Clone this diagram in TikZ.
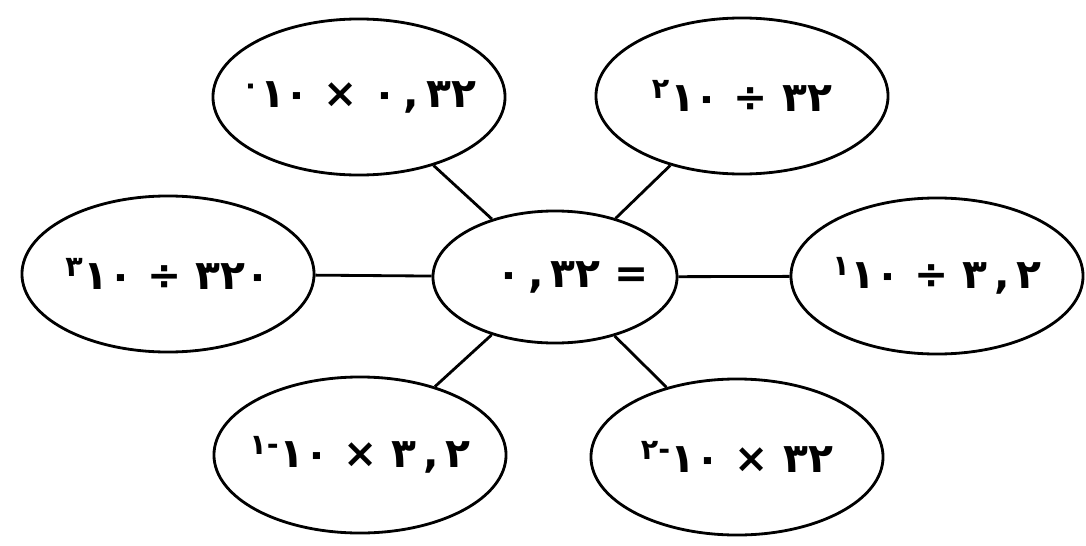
\documentclass[tikz,border=0pt]{standalone}
\usepackage{fontspec}
\newfontfamily\arabicfont[Script=Arabic]{DejaVu Sans}
\usetikzlibrary{shapes.geometric, positioning}
\newcommand{\nowidth}[1]{\makebox[0pt]{#1}}
\tikzset{
    outer/.style={ellipse, minimum width=7.3cm, minimum height=3.9cm, inner sep=0pt, draw=black, line width=2pt, fill=white, font=\arabicfont\bfseries\fontsize{29}{35}\selectfont},
    middle/.style={ellipse, minimum width=6.1cm, minimum height=3.3cm, inner sep=0pt, draw=black, line width=2pt, fill=white, font=\arabicfont\bfseries\fontsize{29}{35}\selectfont},
    link/.style={line width=2pt, draw=black}
}

\begin{document}
\begin{tikzpicture}[x=0.025cm, y=-0.025cm]
    \useasboundingbox (0,0) rectangle (1086,546);
    % Centre
    \node[middle] (ctr) at (555,277) {\nowidth{\hspace{0.9cm}٠\,,\,٣٢\ =}};
    % Outer ellipses
    \node[outer] (tl) at (359,97) {\nowidth{\textsuperscript{٠}١٠ × ٠\,,\,٣٢}};
    \node[outer] (tr) at (742,96) {\nowidth{\textsuperscript{٢}١٠ ÷ ٣٢}};
    \node[outer] (lf) at (168,274) {\nowidth{\textsuperscript{٣}١٠ ÷ ٣٢٠}};
    \node[outer] (rt) at (937,276) {\nowidth{\textsuperscript{١}١٠ ÷ ٣\,,\,٢}};
    \node[outer] (bl) at (360,455) {\nowidth{\textsuperscript{\mbox{١}\mbox{-}}١٠ × ٣\,,\,٢}};
    \node[outer] (br) at (737,457) {\nowidth{\textsuperscript{\mbox{٢}\mbox{-}}١٠ × ٣٢}};
    % Links
    \foreach \n in {tl, tr, lf, rt, bl, br} {
        \draw[link] (ctr) -- (\n);
    }
\end{tikzpicture}
\end{document}
